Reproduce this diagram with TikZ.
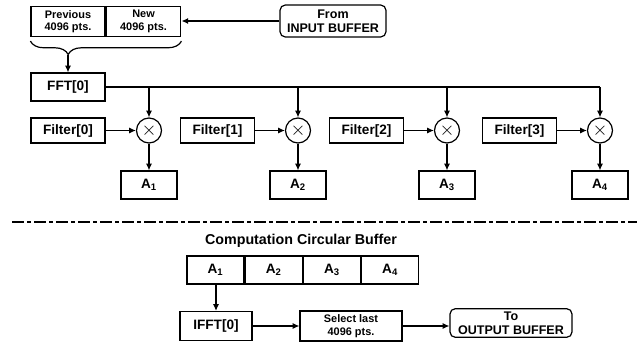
\documentclass[tikz,border=0pt]{standalone}
\usepackage{fontspec}
\setmainfont{Liberation Sans}
\usetikzlibrary{positioning,arrows.meta,decorations.pathreplacing}

\begin{document}
\begin{tikzpicture}[
  x=0.75pt, y=-0.75pt,
  font=\fontsize{10.2}{12}\selectfont\bfseries,
  blk/.style={draw, line width=0.9pt, inner sep=0pt, align=center, minimum width=55.5pt, minimum height=21pt},
  small/.style={font=\fontsize{8.2}{9.4}\selectfont\bfseries},
  term/.style={blk, rounded corners=4pt, font=\fontsize{9.4}{10.8}\selectfont\bfseries},
  mult/.style={draw, circle, line width=0.9pt, inner sep=0pt, minimum size=18.75pt, font=\fontsize{15}{15}\selectfont},
  flow/.style={-{Latex[length=5pt,width=4.5pt]}, line width=0.9pt},
  wire/.style={line width=0.9pt},
  split/.style={line width=1.8pt, dash pattern=on 9pt off 2.5pt on 2.5pt off 2.5pt}
]
  \useasboundingbox (0,0) rectangle (637,350);

  % input side
  \node[blk, small, minimum height=22.5pt] (prev) at (68,21.5) {Previous\\4096 pts.};
  \node[blk, small, minimum height=22.5pt, minimum width=56pt, right=0pt of prev] (new) {New\\4096 pts.};
  \node[term, minimum width=79.5pt, minimum height=24pt] (input) at (333,21) {From\\INPUT BUFFER};
  \draw[flow] (input.west) -- (input.west -| new.east);

  \draw[wire, decorate, decoration={brace, mirror, amplitude=10pt, aspect=0.25}]
    ([yshift=-3pt]prev.south west) -- ([yshift=-3pt]new.south east);
  \coordinate (tip) at (68,55);

  \node[blk] (fft) at (68,87) {FFT[0]};
  \draw[flow] (tip) -- (fft);
  \draw[wire] (fft.east) -- (600,87);

  % one filter branch per block
  \foreach \i/\fx/\mx [count=\k] in {0/68/149, 1/217.5/298, 2/366.5/447, 3/519.5/600} {
    \node[blk, minimum height=18.75pt] (filter\i) at (\fx,130.5) {Filter[\i]};
    \node[mult] (mul\i) at (\mx,130.5) {$\times$};
    \node[blk, minimum width=42pt] (a\i) at (\mx,185) {A\textsubscript{\k}};
    \draw[flow] (filter\i) -- (mul\i);
    \draw[flow] (fft.east -| mul\i) -- (mul\i);
    \draw[flow] (mul\i) -- (a\i);
  }

  \coordinate (sl) at (12,222);
  \coordinate (sr) at (637,222);
  \draw[split] (sl) -- (sr);

  % output side
  \node[font=\fontsize{10.7}{12}\selectfont\bfseries] (cap) at (301,241) {Computation Circular Buffer};
  \node[blk, minimum width=42.75pt] (cell1) at (215.5,270) {A\textsubscript{1}};
  \foreach \k [remember=\k as \j (initially 1)] in {2,3,4}
    \node[blk, minimum width=42.75pt, right=0pt of cell\j] (cell\k) {A\textsubscript{\k}};

  \node[blk, minimum width=54pt, minimum height=21.75pt] (ifft) at (216,326) {IFFT[0]};
  \node[blk, small, minimum width=76.5pt, minimum height=22.5pt] (select) at (351,326) {Select last\\4096 pts.};
  \node[term, minimum width=91.5pt, minimum height=21.5pt] (output) at (511,323) {To\\OUTPUT BUFFER};
  \draw[flow] (cell1.south -| ifft) -- (ifft);
  \draw[flow] (ifft) -- (select);
  \draw[flow] (select.east) -- (select.east -| output.west);
\end{tikzpicture}
\end{document}
